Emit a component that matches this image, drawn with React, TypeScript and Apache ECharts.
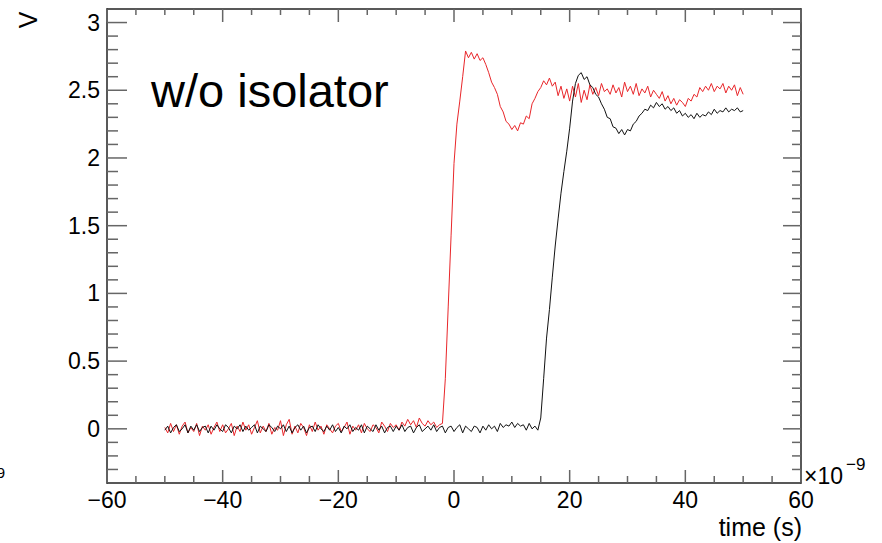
import { useEffect, useRef } from "react";
import * as echarts from "echarts";

// Sampling grid of the scope traces (ns)
const T_START = -50;
const T_STEP = 0.5;

// w/o isolator: red trace (V), t = -50 ... 50 ns
const redVolts = [
  0.01, -0.03, 0.04, -0.02, 0.03, -0.04, 0.02, 0.05, -0.03, 0.01, -0.02, 0.04, -0.05, 0.02, -0.01, 0.03, -0.04, 0.01, 0.05, -0.02,
  0.03, -0.03, 0.0, 0.04, -0.05, 0.02, -0.02, 0.05, -0.01, 0.03, -0.04, 0.01, 0.06, -0.03, 0.02, -0.02, 0.04, -0.04, 0.01, -0.01,
  0.06, -0.05, 0.03, 0.07, -0.04, 0.02, -0.03, 0.04, 0.01, -0.05, 0.03, -0.02, 0.05, -0.01, 0.02, -0.04, 0.03, 0.0, -0.03, 0.02,
  0.04, -0.02, 0.01, 0.05, -0.04, 0.02, -0.01, 0.03, -0.03, 0.04, 0.0, -0.02, 0.03, 0.01, -0.03, 0.05, 0.02, -0.02, 0.04, 0.01,
  0.03, -0.01, 0.05, 0.02, 0.07, 0.03, 0.06, 0.01, 0.08, 0.04, 0.02, 0.06, 0.03, 0.05, 0.01, 0.03, 0.04, 0.37, 0.9, 1.43,
  1.96, 2.25, 2.42, 2.6, 2.79, 2.74, 2.78, 2.73, 2.77, 2.72, 2.74, 2.69, 2.63, 2.56, 2.52, 2.47, 2.38, 2.34, 2.27, 2.25,
  2.21, 2.24, 2.2, 2.26, 2.25, 2.31, 2.29, 2.4, 2.44, 2.49, 2.52, 2.57, 2.54, 2.59, 2.53, 2.56, 2.46, 2.53, 2.44, 2.51,
  2.42, 2.53, 2.45, 2.55, 2.41, 2.5, 2.43, 2.54, 2.47, 2.52, 2.46, 2.55, 2.49, 2.51, 2.47, 2.54, 2.48, 2.52, 2.45, 2.56,
  2.49, 2.53, 2.47, 2.55, 2.46, 2.51, 2.48, 2.53, 2.45, 2.5, 2.47, 2.44, 2.49, 2.42, 2.46, 2.4, 2.44, 2.39, 2.43, 2.41,
  2.38, 2.44, 2.42, 2.47, 2.45, 2.52, 2.49, 2.53, 2.5, 2.55, 2.49, 2.53, 2.51, 2.55, 2.48, 2.53, 2.5, 2.54, 2.46, 2.52,
  2.47,
];

// black trace (V), t = -50 ... 50 ns
const blackVolts = [
  -0.01, 0.02, -0.03, 0.01, 0.03, -0.02, 0.0, 0.03, -0.03, 0.02, -0.01, 0.03, -0.02, 0.01, 0.02, -0.03, 0.02, -0.01, 0.03, 0.0,
  -0.02, 0.03, 0.01, -0.03, 0.02, 0.0, 0.03, -0.02, 0.02, -0.01, 0.01, 0.03, -0.03, 0.02, 0.0, -0.02, 0.03, 0.01, -0.02, 0.02,
  0.0, 0.03, -0.02, 0.02, -0.03, 0.01, 0.03, -0.01, 0.02, -0.03, 0.01, 0.02, -0.02, 0.03, 0.0, -0.02, 0.02, -0.01, 0.03, -0.02,
  0.01, -0.03, 0.02, 0.0, 0.03, -0.02, 0.01, -0.01, 0.03, -0.03, 0.02, 0.0, -0.02, 0.03, -0.01, 0.02, -0.03, 0.01, 0.02, -0.02,
  0.02, -0.01, 0.03, -0.02, 0.01, 0.02, -0.03, 0.01, 0.03, -0.02, 0.0, 0.02, -0.01, 0.03, -0.02, 0.01, 0.02, -0.03, 0.01, 0.02,
  -0.02, 0.01, 0.03, -0.03, 0.02, 0.0, -0.02, 0.02, 0.01, -0.03, 0.02, -0.01, 0.03, 0.0, 0.02, -0.02, 0.04, 0.01, 0.03, 0.02,
  0.05, 0.01, 0.04, 0.02, 0.03, -0.01, 0.04, 0.0, 0.02, -0.01, 0.08, 0.37, 0.67, 0.88, 1.12, 1.35, 1.55, 1.74, 1.9, 2.05,
  2.22, 2.42, 2.55, 2.61, 2.63, 2.58, 2.6, 2.54, 2.52, 2.47, 2.45, 2.4, 2.36, 2.3, 2.29, 2.23, 2.22, 2.18, 2.21, 2.17,
  2.21, 2.2, 2.25, 2.27, 2.31, 2.33, 2.36, 2.35, 2.39, 2.37, 2.41, 2.38, 2.4, 2.36, 2.38, 2.35, 2.37, 2.33, 2.35, 2.31,
  2.33, 2.3, 2.32, 2.29, 2.33, 2.3, 2.32, 2.31, 2.34, 2.32, 2.36, 2.33, 2.35, 2.34, 2.37, 2.34, 2.36, 2.35, 2.37, 2.34,
  2.35,
];

// Axis ranges and ticks
const X_MIN = -60;
const X_MAX = 60;
const Y_MIN = -0.4;
const Y_MAX = 3.1;
const xMajorTicks = [-60, -40, -20, 0, 20, 40, 60];
const xMinorTicks = [-55, -50, -45, -35, -30, -25, -15, -10, -5, 5, 10, 15, 25, 30, 35, 45, 50, 55];
const yMajorTicks = [0, 0.5, 1, 1.5, 2, 2.5, 3];
const yMinorTicks = [
  -0.3, -0.2, -0.1, 0.1, 0.2, 0.3, 0.4, 0.6, 0.7, 0.8, 0.9, 1.1, 1.2, 1.3, 1.4, 1.6, 1.7, 1.8, 1.9,
  2.1, 2.2, 2.3, 2.4, 2.6, 2.7, 2.8, 2.9,
];

const FONT = "'Liberation Sans', Arial, Helvetica, sans-serif";

function toPairs(vals: number[]) {
  return vals.map((v, i) => [T_START + i * T_STEP, v]);
}

type TickSpec = { x: number; y: number; dx: number; dy: number };

function buildTicks(): TickSpec[] {
  const t: TickSpec[] = [];
  yMajorTicks.forEach((v) => {
    t.push({ x: X_MIN, y: v, dx: 20, dy: 0 });
    t.push({ x: X_MAX, y: v, dx: -18, dy: 0 });
  });
  yMinorTicks.forEach((v) => {
    t.push({ x: X_MIN, y: v, dx: 11, dy: 0 });
    t.push({ x: X_MAX, y: v, dx: -9, dy: 0 });
  });
  xMajorTicks.forEach((v) => {
    t.push({ x: v, y: Y_MIN, dx: 0, dy: -13 });
    t.push({ x: v, y: Y_MAX, dx: 0, dy: 13 });
  });
  xMinorTicks.forEach((v) => {
    t.push({ x: v, y: Y_MIN, dx: 0, dy: -7 });
    t.push({ x: v, y: Y_MAX, dx: 0, dy: 6 });
  });
  return t;
}

export default function App() {
  const ref = useRef<HTMLDivElement>(null);

  useEffect(() => {
    if (!ref.current) return;
    const chart = echarts.init(ref.current, null, { renderer: "svg" });
    const ticks = buildTicks();
    const frameLine = { show: true, onZero: false, lineStyle: { color: "#222", width: 1.5 } };

    chart.setOption({
      animation: false,
      backgroundColor: "#fff",
      grid: { left: 107, right: 81, top: 9, bottom: 60, containLabel: false },
      xAxis: [
        {
          type: "value",
          min: X_MIN,
          max: X_MAX,
          interval: 20,
          position: "bottom",
          axisLine: frameLine,
          axisTick: { show: false },
          splitLine: { show: false },
          axisLabel: {
            color: "#000",
            fontSize: 23,
            fontFamily: FONT,
            margin: 5,
            formatter: (v: number) => String(v).replace("-", "\u2212"),
          },
        },
        {
          type: "value",
          min: X_MIN,
          max: X_MAX,
          interval: 20,
          position: "top",
          axisLine: frameLine,
          axisTick: { show: false },
          splitLine: { show: false },
          axisLabel: { show: false },
        },
      ],
      yAxis: [
        {
          type: "value",
          min: Y_MIN,
          max: Y_MAX,
          interval: 0.1,
          position: "left",
          axisLine: frameLine,
          axisTick: { show: false },
          splitLine: { show: false },
          axisLabel: {
            color: "#000",
            fontSize: 23,
            fontFamily: FONT,
            margin: 7,
            formatter: (v: number) => {
              const r = Math.round(v * 10) / 10;
              if (Math.abs(r * 2 - Math.round(r * 2)) > 1e-6) return "";
              return String(r);
            },
          },
        },
        {
          type: "value",
          min: Y_MIN,
          max: Y_MAX,
          interval: 0.1,
          position: "right",
          axisLine: frameLine,
          axisTick: { show: false },
          splitLine: { show: false },
          axisLabel: { show: false },
        },
      ],
      series: [
        {
          type: "custom",
          coordinateSystem: "cartesian2d",
          xAxisIndex: 0,
          yAxisIndex: 0,
          clip: false,
          silent: true,
          z: 1,
          data: ticks.map((s) => [s.x, s.y]),
          renderItem: (params: any, api: any) => {
            const s = ticks[params.dataIndex];
            const p = api.coord([s.x, s.y]);
            return {
              type: "line",
              shape: { x1: p[0], y1: p[1], x2: p[0] + s.dx, y2: p[1] + s.dy },
              style: { stroke: "#666", lineWidth: 1.5 },
            };
          },
        },
        {
          type: "line",
          name: "red",
          xAxisIndex: 0,
          yAxisIndex: 0,
          data: toPairs(redVolts),
          showSymbol: false,
          symbol: "none",
          lineStyle: { color: "#e8262a", width: 1 },
          z: 2,
        },
        {
          type: "line",
          name: "black",
          xAxisIndex: 0,
          yAxisIndex: 0,
          data: toPairs(blackVolts),
          showSymbol: false,
          symbol: "none",
          lineStyle: { color: "#111", width: 1 },
          z: 3,
        },
      ],
      graphic: [
        {
          type: "text",
          x: 151,
          y: 90,
          style: {
            text: "w/o isolator",
            fontSize: 47,
            fontFamily: FONT,
            fill: "#000",
            align: "left",
            verticalAlign: "middle",
          },
        },
        {
          type: "text",
          x: 28,
          y: 20,
          rotation: Math.PI / 2,
          style: {
            text: "V",
            fontSize: 25,
            fontFamily: FONT,
            fill: "#000",
            align: "center",
            verticalAlign: "middle",
          },
        },
        {
          type: "text",
          x: 802,
          y: 527,
          style: {
            text: "time (s)",
            fontSize: 25,
            fontFamily: FONT,
            fill: "#000",
            align: "right",
            verticalAlign: "middle",
          },
        },
        {
          type: "text",
          x: 804,
          y: 476,
          style: {
            text: "\u00d710",
            fontSize: 23,
            fontFamily: FONT,
            fill: "#000",
            align: "left",
            verticalAlign: "middle",
          },
        },
        {
          type: "text",
          x: 846,
          y: 464,
          style: {
            text: "\u22129",
            fontSize: 17,
            fontFamily: FONT,
            fill: "#000",
            align: "left",
            verticalAlign: "middle",
          },
        },
        {
          type: "text",
          x: 5,
          y: 472,
          style: {
            text: "9",
            fontSize: 15,
            fontFamily: FONT,
            fill: "#000",
            align: "right",
            verticalAlign: "middle",
          },
        },
      ],
    });

    return () => chart.dispose();
  }, []);

  return (
    <div
      ref={ref}
      style={{ position: "fixed", left: 0, top: 0, width: 882, height: 543 }}
    />
  );
}
